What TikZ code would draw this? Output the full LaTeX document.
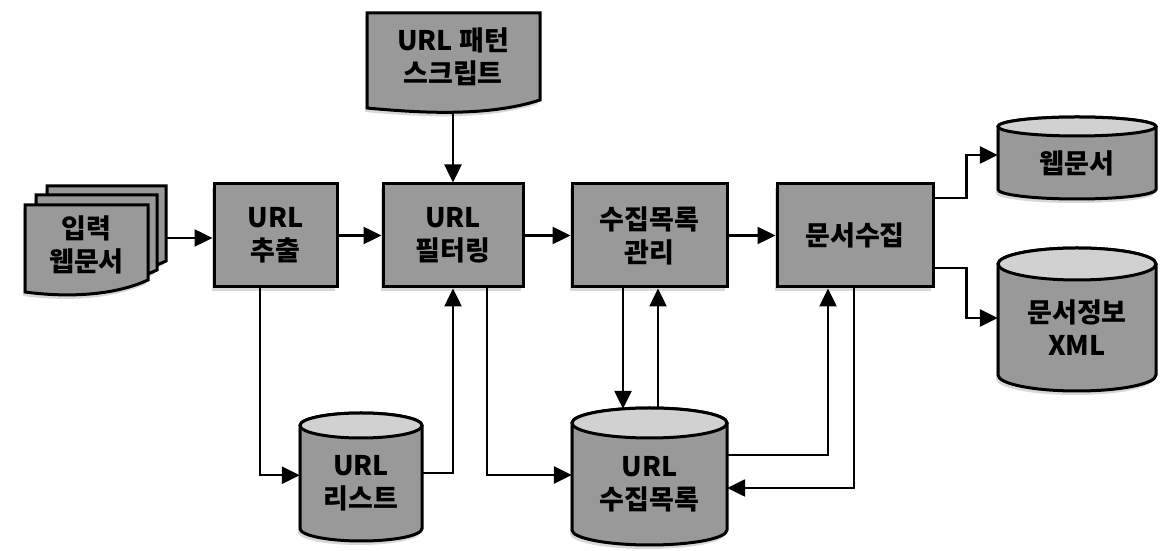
\documentclass[tikz,border=0pt]{standalone}
\usepackage{fontspec}
\setmainfont{Noto Sans CJK KR}
\usetikzlibrary{arrows.meta,calc,shadows}
\newcommand\cylshape[5]{%
  \path[shp] (#1-#2,#3) -- (#1-#2,#4) arc[start angle=180,end angle=360,x radius=#2,y radius=#5] -- (#1+#2,#3) arc[start angle=0,end angle=180,x radius=#2,y radius=#5] -- cycle;
  \path[cyltop] (#1,#3) ellipse[x radius=#2,y radius=#5];}
\begin{document}
\begin{tikzpicture}[x=1pt,y=1pt,
  every node/.style={font=\fontsize{27}{33}\selectfont\bfseries, align=center, inner sep=0pt},
  shadowed/.style={drop shadow={shadow xshift=-2pt,shadow yshift=-4pt,fill=black!30}},
  box/.style={draw=black, line width=3pt, fill=black!40, minimum height=103pt, shadowed},
  shp/.style={draw=black, line width=3pt, fill=black!40, shadowed},
  cyltop/.style={draw=black, line width=3pt, fill=black!18},
  arr/.style={line width=2.5pt, -{Triangle[length=18pt,width=17pt]}}]
\useasboundingbox (0,0) rectangle (1167,551);
% input documents (stack)
\path[shp] (47,365) -- (166,365) -- (166,290) .. controls (130,273) and (83,273) .. (47,278) -- cycle;
\path[shp] (36,356) -- (157,356) -- (157,281) .. controls (121,264) and (72,264) .. (36,269) -- cycle;
\path[shp] (25,346) -- (148,346) -- (148,271) .. controls (111,254) and (62,254) .. (25,259) -- cycle;
\node[minimum width=123pt, minimum height=80pt] (inp) at (86.5,306) {입력\\웹문서};
\coordinate (inR) at (166,313);
% script document
\path[shp] (367,538) -- (540,538) -- (540,451) .. controls (488,434) and (420,438) .. (367,443) -- cycle;
\node[minimum width=173pt, minimum height=87pt] (scr) at (453,494.5) {URL 패턴\\스크립트};
% cylinders
\cylshape{361}{61}{125.5}{22.5}{12.5}
\node[minimum width=122pt, minimum height=115pt] (list) at (361,67.75) {URL\\리스트};
\cylshape{649.5}{77.5}{128}{21}{15}
\node[minimum width=155pt, minimum height=122pt] (ulist) at (649.5,67) {URL\\수집목록};
\cylshape{1077}{79}{424.5}{361.5}{9.5}
\node[minimum width=158pt, minimum height=72pt] (web) at (1077,388) {웹문서};
\cylshape{1077}{79}{287}{176}{16}
\node[minimum width=158pt, minimum height=127pt] (xml) at (1077,223.5) {문서정보\\XML};
% process boxes
\node[box, minimum width=123pt] (ext) at (275.5,315.5) {URL\\추출};
\node[box, minimum width=140pt] (filt) at (453,315.5) {URL\\필터링};
\node[box, minimum width=155pt] (mgmt) at (649.5,315.5) {수집목록\\관리};
\node[box, minimum width=156pt] (coll) at (855,315.5) {문서수집};
% connectors
\draw[arr] (inR) -- (inR -| ext.west);
\draw[arr] (ext) -- (filt);
\draw[arr] (filt) -- (mgmt);
\draw[arr] (mgmt) -- (coll);
\draw[arr] ($(scr.south)+(0,-12)$) -- (filt.north);
\draw[arr] ($(ext.south)+(-15.5,0)$) |- ($(list.west)+(0,8)$);
\draw[arr] ($(list.east)+(0,10)$) -| (filt.south);
\draw[arr] ($(filt.south)+(34,0)$) |- ($(ulist.west)+(0,9)$);
\draw[arr] ($(mgmt.south)+(-26.5,0)$) -- ($(mgmt.south |- ulist.north)+(-26.5,14)$);
\draw[arr] ($(mgmt.south |- ulist.north)+(8.5,15)$) -- ($(mgmt.south)+(8.5,0)$);
\draw[arr] ($(ulist.east)+(0,29)$) -| ($(coll.south)+(-27,0)$);
\draw[arr] ($(coll.south)+(-1,0)$) |- ($(ulist.east)+(0,-4)$);
\draw[arr] ($(coll.east)+(0,37.5)$) -- ++(32,0) |- ($(web.west)+(0,8)$);
\draw[arr] ($(coll.east)+(0,-32.5)$) -- ++(32,0) |- ($(xml.west)+(0,9.5)$);
\end{tikzpicture}
\end{document}
